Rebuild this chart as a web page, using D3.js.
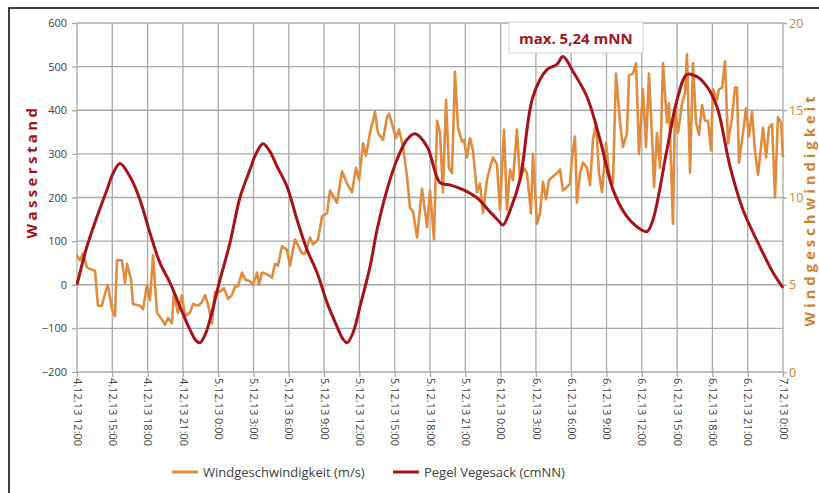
<!DOCTYPE html>
<html>
<head>
<meta charset="utf-8">
<script src="https://cdn.jsdelivr.net/npm/d3@7"></script>
<style>
  html, body { margin: 0; padding: 0; background: #fff; }
  svg { display: block; font-family: "Open Sans", "DejaVu Sans", sans-serif; }
</style>
</head>
<body>
<svg id="chart" width="819" height="493"></svg>
<script>
// ---------- DATA ----------
// hours after 4.12.13 12:00
const windHours = [0.00,0.25,0.51,0.85,1.10,1.53,1.78,2.12,2.38,2.63,2.97,3.23,3.40,3.82,4.08,4.25,4.59,4.76,5.35,5.61,5.95,6.20,6.46,6.80,7.22,7.48,7.73,8.07,8.24,8.58,8.92,9.18,9.60,9.86,10.28,10.62,10.88,11.13,11.47,11.73,12.15,12.49,12.83,13.17,13.43,13.68,14.02,14.28,14.70,14.96,15.30,15.47,15.72,16.15,16.57,16.83,17.08,17.42,17.85,18.10,18.53,19.12,19.38,19.80,20.06,20.48,20.82,21.25,21.50,21.76,22.10,22.52,22.95,23.37,23.71,23.97,24.31,24.56,24.90,25.33,25.58,26.01,26.35,26.52,26.86,27.11,27.37,27.71,28.05,28.30,28.56,28.90,29.32,29.75,30.00,30.34,30.60,30.85,31.10,31.36,31.61,31.87,32.12,32.38,32.72,32.89,33.14,33.40,33.65,33.99,34.25,34.50,34.84,35.10,35.35,35.69,35.95,36.29,36.54,36.80,37.05,37.39,37.65,37.99,38.24,38.58,38.75,39.09,39.35,39.60,39.86,40.11,40.45,40.79,41.05,41.30,41.64,41.90,42.07,42.32,42.49,42.75,43.00,43.34,43.60,43.85,44.11,44.36,44.62,44.96,45.21,45.55,45.81,46.15,46.40,46.74,46.91,47.25,47.51,47.76,48.10,48.36,48.61,48.87,49.04,49.29,49.55,49.80,50.14,50.31,50.65,50.82,51.08,51.42,51.67,51.84,52.10,52.35,52.61,52.86,53.12,53.37,53.63,53.88,54.05,54.39,54.56,54.82,55.07,55.33,55.67,55.92,56.09,56.26,56.60,56.86,57.11,57.37,57.62,57.88,58.13,58.30,58.56,58.81,59.07,59.32,59.57,59.83,60.00];
const windSpeed = [6.7,6.4,6.8,6.0,5.9,5.8,3.8,3.8,4.5,5.0,3.6,3.2,6.4,6.4,5.1,6.2,5.3,3.9,3.8,3.6,5.0,4.1,6.7,3.4,3.0,2.7,3.1,2.8,4.5,3.4,4.4,3.2,3.4,3.9,3.8,4.0,4.4,3.9,2.8,4.6,4.6,4.8,4.2,4.4,4.9,4.9,5.7,5.3,5.2,5.0,5.7,5.0,5.7,5.6,5.4,6.2,6.1,7.2,7.0,6.1,7.6,6.8,6.8,7.7,7.3,7.6,8.9,9.1,10.4,10.1,9.7,11.5,10.8,10.3,11.7,11.0,13.1,12.4,13.7,14.9,13.7,13.3,14.6,14.8,14.0,13.4,13.9,12.9,11.2,9.4,9.2,7.7,10.5,8.3,10.4,7.6,14.4,13.7,10.3,15.6,11.7,11.4,17.2,14.0,13.2,13.3,12.3,13.4,12.7,10.3,10.8,9.1,11.0,11.7,12.3,11.9,9.3,13.9,9.3,11.6,11.0,13.9,11.0,11.7,11.4,9.1,12.5,8.5,9.1,10.9,9.9,11.0,11.2,11.4,11.6,10.4,10.6,10.8,12.3,13.5,9.7,11.4,12.0,11.7,10.7,13.3,14.3,11.4,10.3,13.1,11.4,10.8,17.1,14.3,12.9,13.7,17.0,17.1,17.7,12.5,16.2,12.9,17.1,13.5,10.6,13.7,11.7,17.7,14.3,15.4,8.5,15.2,13.7,15.4,16.0,18.2,11.4,17.7,14.3,13.6,15.3,14.4,14.4,12.7,16.2,15.6,16.2,16.3,17.8,13.1,14.6,16.3,16.3,12.0,13.7,15.1,13.5,14.9,12.7,11.3,12.9,14.0,12.3,14.0,14.2,10.0,14.6,14.3,12.3];

const pegelHours = [0,0.85,1.70,2.55,3.06,3.65,4.50,5.35,6.20,7.05,7.90,8.75,9.60,10.11,10.45,10.88,11.30,12.15,13.00,13.85,14.70,15.21,15.81,16.40,17.00,17.85,18.70,19.55,20.40,21.25,22.10,22.61,22.95,23.46,24.05,24.90,25.50,26.35,27.20,28.05,28.73,29.75,30.85,31.70,32.80,34.00,35.10,35.78,36.20,36.80,37.65,38.75,39.94,40.79,41.30,42.15,43.34,44.45,45.55,46.74,47.85,48.45,48.95,50.14,51.00,51.84,52.69,53.54,54.39,55.50,56.60,58.04,59.15,60.00];
const pegelLevel = [0,88,156,218,255,278,248,195,119,50,5,-50,-103,-128,-133,-115,-80,11,96,200,264,300,323,305,271,225,149,80,28,-41,-96,-125,-133,-110,-50,41,126,218,287,333,346,317,234,229,218,199,167,148,137,170,241,431,493,505,523,489,431,333,218,156,128,122,149,310,424,482,477,454,408,271,172,87,28,-7];

const levelTicks = [-200,-100,0,100,200,300,400,500,600];
const speedTicks = [0,5,10,15,20];
const timeTickHours = [0,3,6,9,12,15,18,21,24,27,30,33,36,39,42,45,48,51,54,57,60];
const timeTickLabels = ["4.12.13 12:00","4.12.13 15:00","4.12.13 18:00","4.12.13 21:00","5.12.13 0:00","5.12.13 3:00","5.12.13 6:00","5.12.13 9:00","5.12.13 12:00","5.12.13 15:00","5.12.13 18:00","5.12.13 21:00","6.12.13 0:00","6.12.13 3:00","6.12.13 6:00","6.12.13 9:00","6.12.13 12:00","6.12.13 15:00","6.12.13 18:00","6.12.13 21:00","7.12.13 0:00"];
const seriesNames = ["Windgeschwindigkeit (m/s)", "Pegel Vegesack (cmNN)"];
const leftTitle = "Wasserstand";
const rightTitle = "Windgeschwindigkeit";
const maxLabel = "max. 5,24 mNN";

// ---------- CHART ----------
const t0 = new Date(2013, 11, 4, 12, 0, 0);
const toDate = h => new Date(t0.getTime() + h * 3600 * 1000);

const W = 819, H = 493;
const plot = { left: 77, right: 783, top: 23, bottom: 372 };
const RED = "#a3141b", ORANGE = "#e08c3e", ORANGE_TXT = "#d4822f", GRID = "#a8a8a8", TXT = "#404040";

const svg = d3.select("#chart");
svg.append("rect").attr("width", W).attr("height", H).attr("fill", "#fff");
svg.append("rect").attr("x", 9).attr("y", 8).attr("width", 900).attr("height", 700)
  .attr("fill", "none").attr("stroke", "#111").attr("stroke-width", 1.6);

const x = d3.scaleTime().domain([toDate(0), toDate(60)]).range([plot.left, plot.right]);
const yL = d3.scaleLinear().domain([-200, 600]).range([plot.bottom, plot.top]);
const yR = d3.scaleLinear().domain([0, 20]).range([plot.bottom, plot.top]);

// grid
const g = svg.append("g");
g.selectAll("line.h").data(levelTicks).join("line")
  .attr("x1", plot.left).attr("x2", plot.right)
  .attr("y1", d => yL(d)).attr("y2", d => yL(d))
  .attr("stroke", GRID).attr("stroke-width", 1.3);
g.selectAll("line.v").data(timeTickHours).join("line")
  .attr("x1", d => x(toDate(d))).attr("x2", d => x(toDate(d)))
  .attr("y1", plot.top).attr("y2", plot.bottom)
  .attr("stroke", GRID).attr("stroke-width", 1.3);

// left axis
const axL = svg.append("g").attr("transform", `translate(${plot.left},0)`)
  .call(d3.axisLeft(yL).tickValues(levelTicks).tickSize(5).tickPadding(5));
axL.select(".domain").remove();
axL.selectAll("line").attr("stroke", GRID).attr("stroke-width", 1.3);
axL.selectAll("text").attr("fill", TXT).style("font-size", "11px").style("font-family", "Open Sans");

// right axis
const axR = svg.append("g").attr("transform", `translate(${plot.right},0)`)
  .call(d3.axisRight(yR).tickValues(speedTicks).tickSize(4).tickPadding(2));
axR.select(".domain").remove();
axR.selectAll("line").attr("stroke", GRID).attr("stroke-width", 1.3);
axR.selectAll("text").attr("fill", ORANGE_TXT).style("font-size", "12.5px").style("font-family", "Open Sans");

// bottom axis
const axB = svg.append("g").attr("transform", `translate(0,${plot.bottom})`)
  .call(d3.axisBottom(x).tickValues(timeTickHours.map(toDate)).tickSize(5)
    .tickFormat((d, i) => timeTickLabels[i]));
axB.select(".domain").remove();
axB.selectAll("line").attr("stroke", GRID).attr("stroke-width", 1.3);
axB.selectAll("text")
  .attr("transform", "rotate(90)")
  .attr("x", 6).attr("y", 0).attr("dy", "0.35em")
  .style("text-anchor", "start")
  .attr("fill", TXT).style("font-size", "11px").style("font-family", "Open Sans");

// axis titles
svg.append("text")
  .attr("transform", `translate(37,${(plot.top + plot.bottom) / 2 - 26}) rotate(-90)`)
  .attr("text-anchor", "middle")
  .attr("fill", RED).style("font-size", "15px").style("font-weight", "bold")
  .style("letter-spacing", "3.4px")
  .text(leftTitle);
svg.append("text")
  .attr("transform", `translate(815,${(plot.top + plot.bottom) / 2 + 12}) rotate(-90)`)
  .attr("text-anchor", "middle")
  .attr("fill", ORANGE_TXT).style("font-size", "15px").style("font-weight", "bold")
  .style("letter-spacing", "3.9px")
  .text(rightTitle);

// series
const windData = windHours.map((h, i) => ({ t: toDate(h), v: windSpeed[i] }));
const pegelData = pegelHours.map((h, i) => ({ t: toDate(h), v: pegelLevel[i] }));

svg.append("path").datum(windData)
  .attr("fill", "none").attr("stroke", ORANGE).attr("stroke-width", 2.6)
  .attr("stroke-linejoin", "round")
  .attr("d", d3.line().x(d => x(d.t)).y(d => yR(d.v)));

svg.append("path").datum(pegelData)
  .attr("fill", "none").attr("stroke", RED).attr("stroke-width", 3)
  .attr("stroke-linejoin", "round")
  .attr("d", d3.line().curve(d3.curveCatmullRom).x(d => x(d.t)).y(d => yL(d.v)));

// max annotation
const maxIdx = d3.maxIndex(pegelLevel);
const mx = x(toDate(pegelHours[maxIdx]));
const boxW = 134, boxH = 31;
const ann = svg.append("g").attr("transform", `translate(${mx - 54},${22})`);
ann.append("rect").attr("width", boxW).attr("height", boxH)
  .attr("fill", "#fff").attr("stroke", "#d4d4d4").attr("stroke-width", 1);
ann.append("text").attr("x", 10).attr("y", 22)
  .attr("fill", RED).style("font-size", "15px").style("font-weight", "bold")
  .text(maxLabel);

// legend
const legend = svg.append("g").attr("transform", "translate(0,472)");
const legItems = [
  { name: seriesNames[0], color: ORANGE, x: 172 },
  { name: seriesNames[1], color: RED, x: 393 }
];
legItems.forEach(it => {
  legend.append("line").attr("x1", it.x).attr("x2", it.x + 26).attr("y1", 0).attr("y2", 0)
    .attr("stroke", it.color).attr("stroke-width", 3);
  legend.append("text").attr("x", it.x + 31).attr("y", 0).attr("dy", "0.35em")
    .attr("fill", TXT).style("font-size", "13px").text(it.name);
});
</script>
</body>
</html>
